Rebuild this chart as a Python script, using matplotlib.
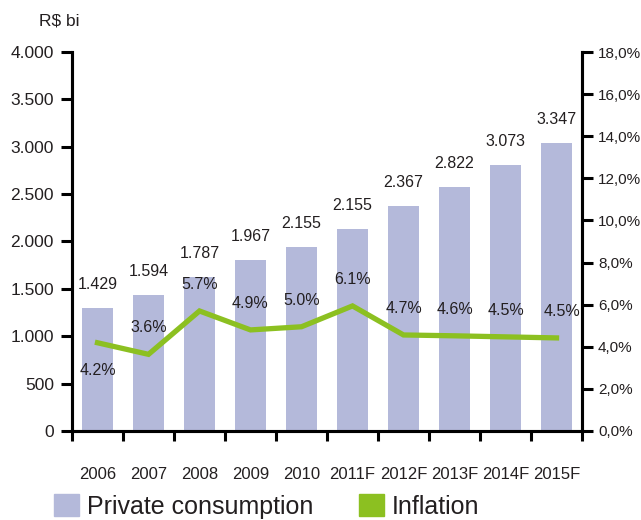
import matplotlib
matplotlib.use("Agg")
import matplotlib.pyplot as plt
from matplotlib.ticker import FuncFormatter, MultipleLocator, FixedLocator
from matplotlib.patches import Patch
import numpy as np

# data
years = ["2006", "2007", "2008", "2009", "2010", "2011F", "2012F", "2013F", "2014F", "2015F"]
consumption = [1301, 1439, 1629, 1805, 1945, 2132, 2375, 2578, 2807, 3040]
consumption_labels = ["1.429", "1.594", "1.787", "1.967", "2.155", "2.155", "2.367", "2.822", "3.073", "3.347"]
inflation = [4.19, 3.64, 5.70, 4.80, 4.95, 5.94, 4.56, 4.52, 4.47, 4.42]
inflation_labels = ["4.2%", "3.6%", "5.7%", "4.9%", "5.0%", "6.1%", "4.7%", "4.6%", "4.5%", "4.5%"]

plt.rcParams["font.family"] = ["Liberation Sans", "DejaVu Sans"]

txt = "#231f20"
bar_color = "#b4b9da"
line_color = "#8cc021"

fig = plt.figure(figsize=(6.41, 5.2), dpi=100)
ax = fig.add_axes([0.1123, 0.1712, 0.9080 - 0.1123, 0.9 - 0.1712])
ax2 = ax.twinx()

x = np.arange(len(years))
ax.bar(x, consumption, width=0.59, color=bar_color, zorder=1)
ax.set_xlim(-0.5, len(years) - 0.5)
ax.set_ylim(0, 4000)

for xi, h, lab in zip(x, consumption, consumption_labels):
    ax.annotate(lab, (xi, h), xytext=(0, 17), textcoords="offset points",
                ha="center", va="center", fontsize=11.5, color=txt)

ax2.plot(x, inflation, color=line_color, lw=3.8, solid_joinstyle="miter", zorder=3)
ax2.set_ylim(0, 18)
for i, (xi, v, lab) in enumerate(zip(x, inflation, inflation_labels)):
    dy = -20 if i == 0 else 19
    dx = 4 if i == len(years) - 1 else 0
    ax2.annotate(lab, (xi, v), xytext=(dx, dy), textcoords="offset points",
                 ha="center", va="center", fontsize=11.5, color=txt)

ax.yaxis.set_major_locator(MultipleLocator(500))
ax.yaxis.set_major_formatter(FuncFormatter(lambda v, p: f"{int(v):,}".replace(",", ".")))
ax2.yaxis.set_major_locator(MultipleLocator(2))
ax2.yaxis.set_major_formatter(FuncFormatter(lambda v, p: f"{v:.1f}%".replace(".", ",")))

ax.set_xticks(x)
ax.set_xticklabels(years)
ax.xaxis.set_minor_locator(FixedLocator(np.arange(-0.5, len(years), 1.0)))
ax.tick_params(axis="x", which="major", length=0, pad=26, labelsize=12, labelcolor=txt)
ax.tick_params(axis="x", which="minor", length=7, width=2.2, direction="out", color="black")
ax.tick_params(axis="y", length=8, width=2.2, pad=5, labelsize=12.5, labelcolor=txt)
ax2.tick_params(axis="y", length=8, width=2.2, pad=3.5, labelsize=11, labelcolor=txt)

for a in (ax, ax2):
    a.spines["top"].set_visible(False)
    for s in ("left", "right", "bottom"):
        a.spines[s].set_linewidth(2.2)
        a.spines[s].set_color("black")

ax.set_zorder(ax2.get_zorder() - 1)
ax.patch.set_visible(False)

fig.text(39 / 641, 1 - 21 / 520, "R$ bi", fontsize=12.5, color=txt, ha="left", va="center")

handles = [Patch(color=bar_color), Patch(color=line_color)]
fig.legend(handles, ["Private consumption", "Inflation"], loc="lower left",
           bbox_to_anchor=(53 / 641, 0.0), ncol=2, frameon=False, fontsize=18,
           handlelength=1.0, handleheight=1.0, handletextpad=0.32, columnspacing=1.8,
           borderpad=0.05, borderaxespad=0.0, labelcolor=txt)

fig.savefig("out.png", dpi=100)
